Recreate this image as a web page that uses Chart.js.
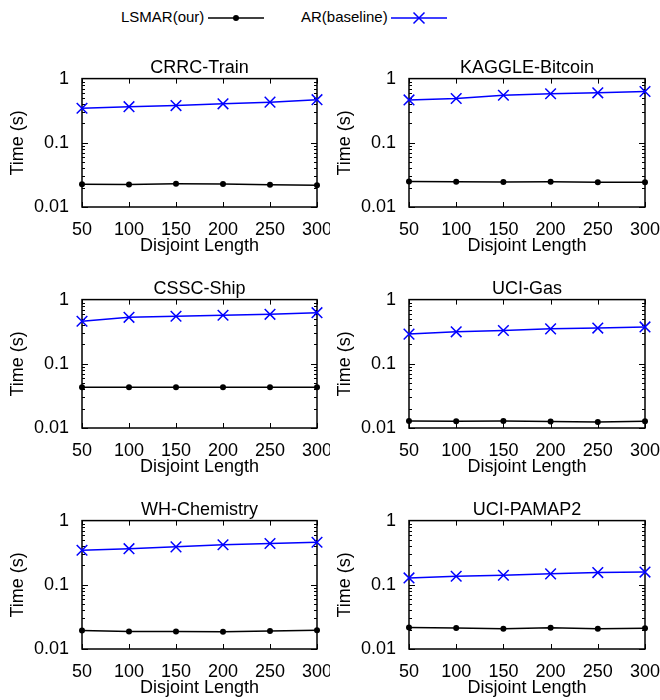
<!DOCTYPE html>
<html>
<head>
<meta charset="utf-8">
<script src="https://cdn.jsdelivr.net/npm/chart.js@4"></script>
<style>
  body { margin: 0; background: #fff; }
  #wrap { position: relative; width: 660px; height: 700px; font-family: "Liberation Sans", Arial, sans-serif; }
  #wrap canvas { position: absolute; }
  .leg { position: absolute; top: 8px; font-size: 15px; line-height: 18px; color: #000; }
  .leg svg { position: absolute; top: 0; }
</style>
</head>
<body>
<div id="wrap">
  <div class="leg" style="left:121px;">LSMAR(our)</div>
  <div class="leg" style="left:208px;"><svg width="58" height="18"><line x1="0" y1="10" x2="56" y2="10" stroke="#000" stroke-width="1.5"/><circle cx="28" cy="10" r="3" fill="#000"/></svg></div>
  <div class="leg" style="left:301px;">AR(baseline)</div>
  <div class="leg" style="left:391px;"><svg width="58" height="18"><line x1="0" y1="10" x2="56" y2="10" stroke="#0000ff" stroke-width="1.5"/><path d="M22.5 4.5 L33.5 15.5 M33.5 4.5 L22.5 15.5" stroke="#0000ff" stroke-width="1.5"/></svg></div>
</div>
<script>
// x categories (disjoint length) and y ticks
const lengths = ["50", "100", "150", "200", "250", "300"];
const yTicks = [0.01, 0.1, 1];

const titles = ["CRRC-Train", "KAGGLE-Bitcoin", "CSSC-Ship", "UCI-Gas", "WH-Chemistry", "UCI-PAMAP2"];

// LSMAR(our) time in seconds
const lsmarCrrc = [0.0226, 0.0225, 0.0231, 0.0229, 0.0223, 0.0219];
const lsmarBitcoin = [0.025, 0.0247, 0.0246, 0.0247, 0.0243, 0.0244];
const lsmarShip = [0.043, 0.043, 0.043, 0.0432, 0.0433, 0.0432];
const lsmarGas = [0.0129, 0.0127, 0.0128, 0.0126, 0.0124, 0.0127];
const lsmarChem = [0.0194, 0.0188, 0.0188, 0.0185, 0.019, 0.0196];
const lsmarPamap = [0.0217, 0.0212, 0.0207, 0.0214, 0.0207, 0.021];

// AR(baseline) time in seconds
const arCrrc = [0.345, 0.365, 0.38, 0.405, 0.43, 0.47];
const arBitcoin = [0.465, 0.49, 0.55, 0.58, 0.6, 0.63];
const arShip = [0.46, 0.53, 0.55, 0.57, 0.59, 0.625];
const arGas = [0.29, 0.315, 0.33, 0.35, 0.36, 0.375];
const arChem = [0.345, 0.365, 0.39, 0.42, 0.44, 0.46];
const arPamap = [0.128, 0.136, 0.141, 0.148, 0.155, 0.158];

const lsmarAll = [lsmarCrrc, lsmarBitcoin, lsmarShip, lsmarGas, lsmarChem, lsmarPamap];
const arAll = [arCrrc, arBitcoin, arShip, arGas, arChem, arPamap];

Chart.defaults.font.family = "'Liberation Sans', Arial, sans-serif";
Chart.defaults.color = "#000";

// gnuplot-like frame with inward ticks on all four sides
const frameTicks = {
  id: "frameTicks",
  beforeDatasetsDraw(chart) {
    const { ctx, chartArea: a, scales: { x, y } } = chart;
    ctx.save();
    ctx.strokeStyle = "#000";
    ctx.lineWidth = 1;
    ctx.beginPath();
    // y ticks: majors + minors of each decade
    for (let d = 0; d < yTicks.length - 1; d++) {
      for (let k = 1; k < 10; k++) {
        const py = Math.round(y.getPixelForValue(yTicks[d] * k)) + 0.5;
        const len = k === 1 ? 6 : 3;
        ctx.moveTo(a.left, py); ctx.lineTo(a.left + len, py);
        ctx.moveTo(a.right, py); ctx.lineTo(a.right - len, py);
      }
    }
    // x ticks
    x.ticks.forEach((t, i) => {
      const px = Math.round(x.getPixelForTick(i)) + 0.5;
      ctx.moveTo(px, a.bottom); ctx.lineTo(px, a.bottom - 5);
      ctx.moveTo(px, a.top); ctx.lineTo(px, a.top + 5);
    });
    ctx.stroke();
    ctx.lineWidth = 1.5;
    ctx.strokeRect(a.left, a.top, a.right - a.left, a.bottom - a.top);
    ctx.restore();
  }
};

const wrap = document.getElementById("wrap");
const rowTops = [50, 271, 492];

titles.forEach((title, i) => {
  const col = i % 2;
  const row = Math.floor(i / 2);
  const canvas = document.createElement("canvas");
  canvas.width = 330;
  canvas.height = 210;
  canvas.style.left = col * 330 + "px";
  canvas.style.top = rowTops[row] + "px";
  wrap.appendChild(canvas);

  const yWidth = col === 0 ? 82 : 79;

  new Chart(canvas.getContext("2d"), {
    type: "line",
    data: {
      labels: lengths,
      datasets: [
        {
          label: "LSMAR(our)",
          data: lsmarAll[i],
          borderColor: "#000",
          backgroundColor: "#000",
          borderWidth: 1.5,
          pointStyle: "circle",
          pointRadius: 3,
          pointBorderWidth: 0,
          clip: false,
          fill: false,
        },
        {
          label: "AR(baseline)",
          data: arAll[i],
          borderColor: "#0000ff",
          backgroundColor: "#0000ff",
          borderWidth: 1.5,
          pointStyle: "crossRot",
          pointRadius: 7.5,
          pointBorderWidth: 1.5,
          clip: false,
          fill: false,
        },
      ],
    },
    options: {
      responsive: false,
      animation: false,
      events: [],
      layout: { padding: { top: 7, right: col === 0 ? 13 : 15, bottom: 0, left: 0 } },
      plugins: {
        legend: { display: false },
        tooltip: { enabled: false },
        title: {
          display: true,
          fullSize: false,
          text: title,
          font: { size: 18, weight: "normal" },
          padding: { top: 0, bottom: 0 },
        },
      },
      scales: {
        x: {
          grid: { display: false, drawTicks: false },
          border: { display: false },
          ticks: { font: { size: 18 }, padding: 12, maxRotation: 0, autoSkip: false },
          title: { display: true, text: "Disjoint Length", font: { size: 18 }, padding: { top: 0, bottom: 3 } },
          afterFit: (s) => { s.height = 53; s.paddingLeft = 0; s.paddingRight = 0; },
        },
        y: {
          type: "logarithmic",
          min: 0.01,
          max: 1,
          grid: { display: false, drawTicks: false },
          border: { display: false },
          afterBuildTicks: (s) => { s.ticks = yTicks.map((v) => ({ value: v })); },
          ticks: { font: { size: 18 }, padding: 13, callback: (v) => String(v) },
          title: { display: true, text: "Time (s)", font: { size: 18 }, padding: { top: col === 0 ? 7 : 4, bottom: 0 } },
          afterFit: (s) => { s.width = yWidth; },
        },
      },
    },
    plugins: [frameTicks],
  });
});
</script>
</body>
</html>
